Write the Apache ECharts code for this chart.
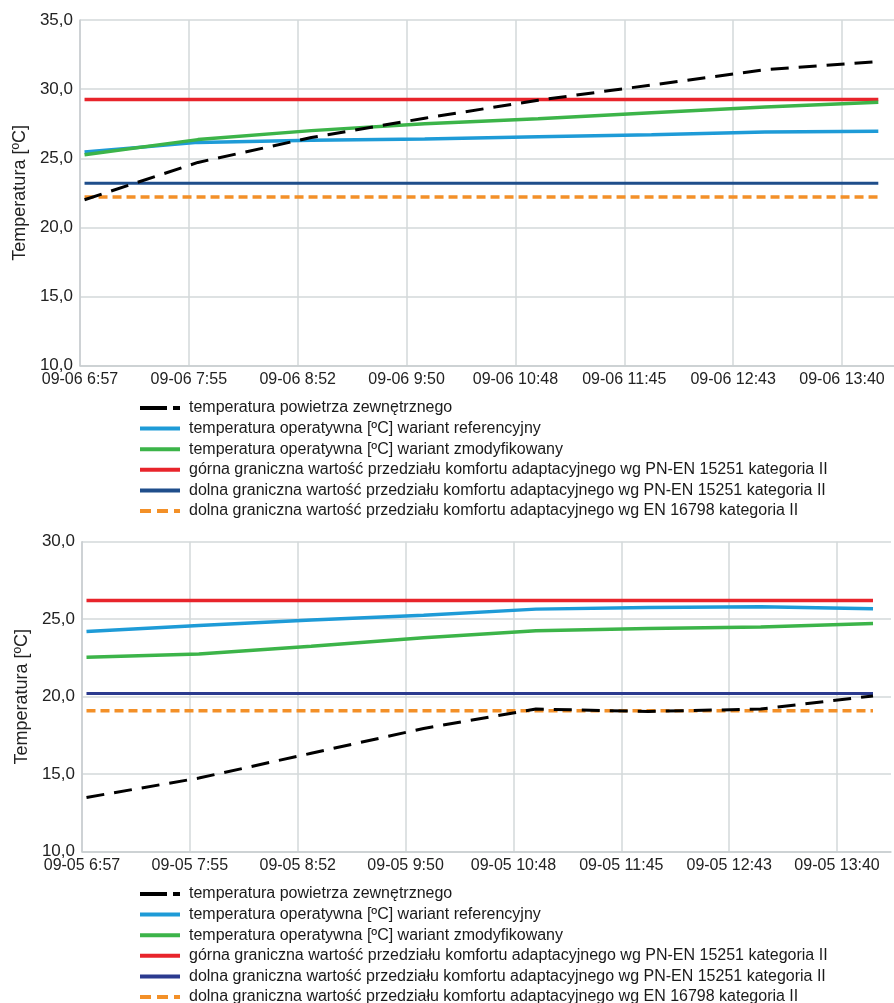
<!DOCTYPE html>
<html>
<head>
<meta charset="utf-8">
<script src="https://cdn.jsdelivr.net/npm/echarts@6/dist/echarts.min.js"></script>
<style>
html,body{margin:0;padding:0;background:#fff;}
#c{width:894px;height:1003px;}
</style>
</head>
<body>
<div id="c"></div>
<script>
// Hourly sample times (clock time)
const times = ["7:00","8:00","9:00","10:00","11:00","12:00","13:00","14:00"];

// Tick labels (one every 57.6 min starting 6:57)
const ticksTop = ["09-06 6:57","09-06 7:55","09-06 8:52","09-06 9:50","09-06 10:48","09-06 11:45","09-06 12:43","09-06 13:40"];
const ticksBottom = ["09-05 6:57","09-05 7:55","09-05 8:52","09-05 9:50","09-05 10:48","09-05 11:45","09-05 12:43","09-05 13:40"];

const seriesNames = [
  "temperatura powietrza zewnętrznego",
  "temperatura operatywna [ºC] wariant referencyjny",
  "temperatura operatywna [ºC] wariant zmodyfikowany",
  "górna graniczna wartość przedziału komfortu adaptacyjnego wg PN-EN 15251 kategoria II",
  "dolna graniczna wartość przedziału komfortu adaptacyjnego wg PN-EN 15251 kategoria II",
  "dolna graniczna wartość przedziału komfortu adaptacyjnego wg EN 16798 kategoria II"
];

// Top chart (09-06)
const outdoorTop   = [22.0, 24.7, 26.5, 27.9, 29.2, 30.3, 31.4, 32.0];
const refTop       = [25.45, 26.15, 26.3, 26.4, 26.55, 26.7, 26.9, 26.95];
const modTop       = [25.25, 26.35, 27.0, 27.5, 27.85, 28.3, 28.7, 29.05];
const upperPNTop   = [29.25, 29.25, 29.25, 29.25, 29.25, 29.25, 29.25, 29.25];
const lowerPNTop   = [23.2, 23.2, 23.2, 23.2, 23.2, 23.2, 23.2, 23.2];
const lowerENTop   = [22.2, 22.2, 22.2, 22.2, 22.2, 22.2, 22.2, 22.2];

// Bottom chart (09-05)
const outdoorBot   = [13.5, 14.75, 16.35, 17.95, 19.2, 19.05, 19.2, 20.05];
const refBot       = [24.2, 24.6, 24.95, 25.25, 25.65, 25.75, 25.8, 25.68];
const modBot       = [22.55, 22.75, 23.25, 23.8, 24.25, 24.4, 24.5, 24.73];
const upperPNBot   = [26.2, 26.2, 26.2, 26.2, 26.2, 26.2, 26.2, 26.2];
const lowerPNBot   = [20.2, 20.2, 20.2, 20.2, 20.2, 20.2, 20.2, 20.2];
const lowerENBot   = [19.1, 19.1, 19.1, 19.1, 19.1, 19.1, 19.1, 19.1];

const AXIS_START = 6*60 + 57.6;   // minutes since midnight at first tick
const STEP = 57.6;                 // minutes between ticks
function toX(t){ const p = t.split(":"); return (+p[0])*60 + (+p[1]) - AXIS_START; }
function pairs(vals){ return times.map((t,i)=>[toX(t), vals[i]]); }

const FONT = "'Liberation Sans', Arial, sans-serif";
const colors = ["#000000","#1e9bd7","#3cb449","#e8242b","#1f4e8b","#f39028"];
const darkBlueBot = "#2b3a8f";

const ICON_SOLID  = 'path://M0,0h40v4h-40z';
const ICON_OUT    = 'path://M0,0h27v4h-27z M33,0h7v4h-7z';
const ICON_ORANGE = 'path://M0,0h11v4h-11z M17,0h11v4h-11z M34,0h6v4h-6z';
const icons = [ICON_OUT, ICON_SOLID, ICON_SOLID, ICON_SOLID, ICON_SOLID, ICON_ORANGE];

function styles(darkBlue){
  return [
    {color:colors[0], width:3, type:[18,10]},
    {color:colors[1], width:3.5, type:'solid'},
    {color:colors[2], width:3.5, type:'solid'},
    {color:colors[3], width:3.5, type:'solid'},
    {color:darkBlue, width:3, type:'solid'},
    {color:colors[5], width:3.5, type:[9,5]}
  ];
}
const order = [3,4,5,1,2,0];

function makeSeries(dataSets, gi, darkBlue){
  const st = styles(darkBlue);
  return dataSets.map((d,i)=>({
    name: seriesNames[i],
    type:'line',
    xAxisIndex: gi, yAxisIndex: gi,
    data: pairs(d),
    symbol:'none',
    lineStyle: st[i],
    itemStyle:{color: st[i].color},
    z: 2 + order.indexOf(i),
    animation:false
  }));
}

function xAxis(gi, xmax, ticks){
  return {
    gridIndex: gi, type:'value', min:0, max:xmax, interval:STEP,
    axisLine:{show:true, lineStyle:{color:'#c8cdd0', width:1.5}},
    axisTick:{show:false},
    splitLine:{show:true, showMaxLine:false, lineStyle:{color:'#d3d8da', width:1.5}},
    axisLabel:{
      fontFamily:FONT, fontSize:16, color:'#222', margin:6, showMaxLabel:false,
      formatter:function(v){
        const k = Math.round(v/STEP);
        if (Math.abs(v - k*STEP) < 0.01 && k < ticks.length) return ticks[k];
        return '';
      }
    }
  };
}
function yAxis(gi, ymax){
  return {
    gridIndex: gi, type:'value', min:10, max:ymax, interval:5,
    name:'Temperatura [ºC]', nameLocation:'middle', nameGap:49, nameRotate:90,
    nameTextStyle:{fontFamily:FONT, fontSize:18, color:'#222'},
    axisLine:{show:true, lineStyle:{color:'#c8cdd0', width:1.5}},
    axisTick:{show:false},
    splitLine:{show:true, lineStyle:{color:'#d3d8da', width:1.5}},
    axisLabel:{fontFamily:FONT, fontSize:17, color:'#222', margin:7,
      formatter:function(v){ return v.toFixed(1).replace('.', ','); }}
  };
}
function legend(top, darkBlue){
  const st = styles(darkBlue);
  return {
    orient:'vertical', left:140, top:top, height:140, padding:0,
    itemWidth:40, itemHeight:4, itemGap:4.6, symbolKeepAspect:false,
    data: seriesNames.map((n,i)=>({name:n, icon:icons[i], itemStyle:{color:st[i].color, borderWidth:0}})),
    textStyle:{fontFamily:FONT, fontSize:16, color:'#1a1a1a', lineHeight:14, padding:[0,0,0,4]},
    selectedMode:false
  };
}

const chart = echarts.init(document.getElementById('c'), null, {renderer:'canvas'});
chart.setOption({
  animation:false,
  textStyle:{fontFamily:FONT},
  grid:[
    {left:80, right:0, top:20, height:345.7, containLabel:false},
    {left:82, right:3, top:541.7, height:310, containLabel:false}
  ],
  xAxis:[xAxis(0, 430.7, ticksTop), xAxis(1, 432, ticksBottom)],
  yAxis:[yAxis(0, 35), yAxis(1, 30)],
  legend:[legend(400, colors[4]), legend(886, darkBlueBot)],
  series: makeSeries([outdoorTop, refTop, modTop, upperPNTop, lowerPNTop, lowerENTop], 0, colors[4])
    .concat(makeSeries([outdoorBot, refBot, modBot, upperPNBot, lowerPNBot, lowerENBot], 1, darkBlueBot))
});
</script>
</body>
</html>
